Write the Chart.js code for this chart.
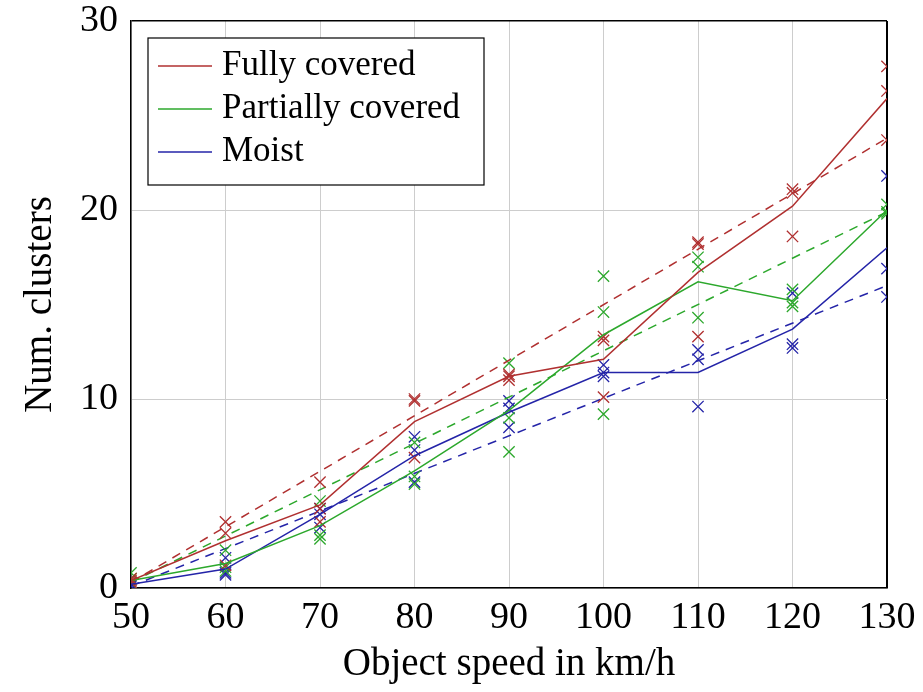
<!DOCTYPE html>
<html>
<head>
<meta charset="utf-8">
<script src="https://cdn.jsdelivr.net/npm/chart.js@4.4.1/dist/chart.umd.min.js"></script>
<style>
	html, body { margin: 0; padding: 0; background: #fff; }
</style>
</head>
<body>
<canvas id="graficoClusters" width="923" height="692"></canvas>
<script>
var speeds = [50, 60, 70, 80, 90, 100, 110, 120, 130];
var fitSpeeds = [50, 130];

// mean lines (solid)
var fullyMean = [0.4, 2.5, 4.4, 8.8, 11.2, 12.1, 16.7, 20.2, 25.9];
var partialMean = [0.4, 1.3, 3.3, 6.2, 9.4, 13.4, 16.2, 15.2, 20.0];
var moistMean = [0.2, 1.0, 3.9, 7.0, 9.3, 11.4, 11.4, 13.7, 18.0];

// fitted lines (dashed), values at 50 and 130
var fullyFit = [0.3, 23.8];
var partialFit = [0.3, 19.9];
var moistFit = [0.1, 16.0];

// single runs (crosses), three per speed
var fullySamples = [
	[0.5, 0.4, 0.3], [3.5, 2.9, 1.2], [5.6, 4.2, 3.5], [10.0, 9.9, 6.9], [11.3, 11.2, 11.0],
	[13.3, 13.1, 10.1], [18.3, 18.2, 13.3], [21.1, 20.9, 18.6], [27.6, 26.3, 23.7]
];
var partialSamples = [
	[0.8, 0.5, 0.3], [2.0, 1.1, 0.9], [4.6, 2.8, 2.6], [7.7, 5.9, 5.5], [11.9, 9.0, 7.2],
	[16.5, 14.6, 9.2], [17.5, 17.0, 14.3], [15.8, 15.1, 14.9], [20.3, 19.9, 19.8]
];
var moistSamples = [
	[0.3, 0.2, 0.1], [1.6, 0.8, 0.7], [4.2, 3.9, 3.2], [8.0, 7.3, 5.6], [9.9, 9.5, 8.5],
	[11.8, 11.4, 11.2], [12.6, 12.1, 9.6], [15.6, 12.9, 12.7], [21.8, 16.9, 15.4]
];

var seriesLabels = ['Fully covered', 'Partially covered', 'Moist'];
var seriesColors = ['rgb(176,48,48)', 'rgb(44,168,44)', 'rgb(36,36,168)'];

var xTicks = [50, 60, 70, 80, 90, 100, 110, 120, 130];
var yTicks = [0, 10, 20, 30];

function pontos(xs, ys) {
	return xs.map(function(x, i) {
		return { x: x, y: ys[i] };
	});
}

function amostras(xs, grupos) {
	var out = [];
	xs.forEach(function(x, i) {
		grupos[i].forEach(function(v) {
			out.push({ x: x, y: v });
		});
	});
	return out;
}

function linha(label, cor, dados, tracejado) {
	return {
		type: 'line',
		label: label,
		data: dados,
		borderColor: cor,
		backgroundColor: cor,
		borderWidth: 1.5,
		borderDash: tracejado ? [9, 7] : [],
		pointRadius: 0,
		fill: false,
		tension: 0
	};
}

function cruzes(cor, dados) {
	return {
		type: 'scatter',
		label: '',
		data: dados,
		borderColor: cor,
		backgroundColor: cor,
		pointStyle: 'crossRot',
		pointRadius: 8,
		pointBorderWidth: 1.3
	};
}

var means = [fullyMean, partialMean, moistMean];
var fits = [fullyFit, partialFit, moistFit];
var samples = [fullySamples, partialSamples, moistSamples];

var datasets = [];
for (var i = 0; i < 3; i++) {
	datasets.push(linha(seriesLabels[i], seriesColors[i], pontos(speeds, means[i]), false));
}
for (var j = 0; j < 3; j++) {
	datasets.push(linha('', seriesColors[j], pontos(fitSpeeds, fits[j]), true));
	datasets.push(cruzes(seriesColors[j], amostras(speeds, samples[j])));
}

// legend box drawn inside the plot, white with black frame
var caixaLegenda = {
	id: 'caixaLegenda',
	afterDraw: function(chart) {
		var ctx = chart.ctx;
		var area = chart.chartArea;
		var x = area.left + 17;
		var y = area.top + 17;
		ctx.save();
		ctx.fillStyle = '#fff';
		ctx.fillRect(x, y, 336, 147);
		ctx.strokeStyle = '#000';
		ctx.lineWidth = 1.2;
		ctx.strokeRect(x, y, 336, 147);
		ctx.font = '35px "Liberation Serif"';
		ctx.textBaseline = 'middle';
		ctx.textAlign = 'left';
		var linhas = [28, 71, 114];
		for (var k = 0; k < 3; k++) {
			var ds = chart.data.datasets[k];
			var cy = y + linhas[k];
			ctx.strokeStyle = ds.borderColor;
			ctx.lineWidth = 1.5;
			ctx.beginPath();
			ctx.moveTo(x + 10, cy);
			ctx.lineTo(x + 64, cy);
			ctx.stroke();
			ctx.fillStyle = '#000';
			ctx.fillText(ds.label, x + 74, cy);
		}
		ctx.restore();
	}
};

var grafico = new Chart(document.getElementById('graficoClusters').getContext('2d'), {
	type: 'scatter',
	data: { datasets: datasets },
	options: {
		responsive: false,
		animation: false,
		layout: { padding: { top: 21, right: 36, left: 0, bottom: 0 } },
		plugins: {
			legend: { display: false },
			tooltip: { enabled: false }
		},
		scales: {
			x: {
				type: 'linear',
				min: 50,
				max: 130,
				afterBuildTicks: function(scale) {
					scale.ticks = xTicks.map(function(v) { return { value: v }; });
				},
				afterFit: function(scale) {
					scale.height = 104;
					scale.paddingLeft = 0;
					scale.paddingRight = 0;
				},
				grid: {
					drawTicks: false,
					lineWidth: function(c) { return c.tick && c.tick.value === 130 ? 2 : 1; },
					color: function(c) { return c.tick && c.tick.value === 130 ? '#000' : 'rgb(205,205,205)'; }
				},
				border: { color: '#000', width: 1.5 },
				ticks: {
					padding: 7,
					color: '#000',
					font: { family: '"Liberation Serif"', size: 38 }
				},
				title: {
					display: true,
					text: 'Object speed in km/h',
					color: '#000',
					font: { family: '"Liberation Serif"', size: 39 },
					padding: { top: 4, bottom: 4 }
				}
			},
			y: {
				min: 0,
				max: 30,
				afterBuildTicks: function(scale) {
					scale.ticks = yTicks.map(function(v) { return { value: v }; });
				},
				afterFit: function(scale) {
					scale.width = 131;
					scale.paddingTop = 0;
					scale.paddingBottom = 0;
				},
				grid: {
					drawTicks: false,
					lineWidth: function(c) { return c.tick && c.tick.value === 30 ? 1.5 : 1; },
					color: function(c) { return c.tick && c.tick.value === 30 ? '#000' : 'rgb(205,205,205)'; }
				},
				border: { color: '#000', width: 1.5 },
				ticks: {
					padding: 13,
					color: '#000',
					font: { family: '"Liberation Serif"', size: 38 }
				},
				title: {
					display: true,
					text: 'Num. clusters',
					color: '#000',
					font: { family: '"Liberation Serif"', size: 39 },
					padding: { top: 17, bottom: 4 }
				}
			}
		}
	},
	plugins: [caixaLegenda]
});
</script>
</body>
</html>
